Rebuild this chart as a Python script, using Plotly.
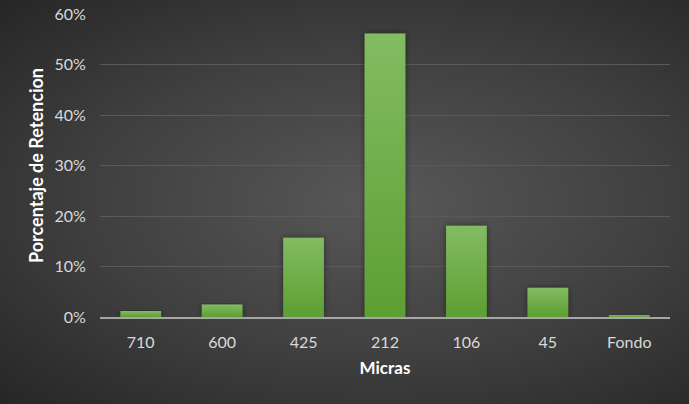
import plotly.graph_objects as go

CATEGORIAS = ["710", "600", "425", "212", "106", "45", "Fondo"]
RETENCION = [0.012, 0.025, 0.157, 0.562, 0.181, 0.058, 0.002]
TICKS_Y = [0, 0.1, 0.2, 0.3, 0.4, 0.5, 0.6]
TEXTO_Y = ["0%", "10%", "20%", "30%", "40%", "50%", "60%"]

VERDE = "#6aab3f"
GRIS_TXT = "#d9d9d9"
FUENTE = "Lato, Open Sans, sans-serif"

fig = go.Figure(go.Bar(
    x=CATEGORIAS, y=RETENCION,
    marker=dict(color=VERDE, line=dict(width=0)),
    width=0.5,
))

fig.update_layout(
    width=689, height=404,
    margin=dict(l=100, r=19, t=14, b=87),
    paper_bgcolor="rgba(0,0,0,0)",
    plot_bgcolor="rgba(0,0,0,0)",
    font=dict(family=FUENTE, color=GRIS_TXT, size=13),
    showlegend=False,
    bargap=0.5,
)
fig.update_xaxes(
    title=dict(text="<b>Micras</b>", font=dict(color="#ffffff", size=17), standoff=12),
    tickfont=dict(color=GRIS_TXT, size=16),
    showgrid=False, showline=True, linecolor="#a6a6a6", linewidth=2,
    ticks="outside", ticklen=10, tickcolor="rgba(0,0,0,0)",
    automargin=False,
)
fig.update_yaxes(
    title=dict(text="<b>Porcentaje de Retencion</b>", font=dict(color="#ffffff", size=18), standoff=6),
    range=[0, 0.6005], tickvals=TICKS_Y, ticktext=TEXTO_Y,
    tickfont=dict(color=GRIS_TXT, size=16),
    gridcolor="#5a5a5a", gridwidth=1, zeroline=False, showline=False,
    ticks="outside", ticklen=10, tickcolor="rgba(0,0,0,0)",
    automargin=False, ticklabeloverflow="allow",
)

js = """
document.body.style.margin = '0';
document.body.style.background = '#2e2e2e';
var gd = document.querySelector('.plotly-graph-div');
gd.style.background = 'radial-gradient(ellipse at 55% 50%, #585858 0%, #3f3f3f 55%, #262626 100%)';
function pintar(){
  var svg = gd.querySelector('svg.main-svg');
  if (!svg) return;
  var ns = 'http://www.w3.org/2000/svg';
  var defs = svg.querySelector('defs');
  if (!svg.querySelector('#gradVerde')) {
    var g = document.createElementNS(ns, 'linearGradient');
    g.setAttribute('id', 'gradVerde');
    g.setAttribute('x1', '0'); g.setAttribute('y1', '0');
    g.setAttribute('x2', '0'); g.setAttribute('y2', '1');
    [['0%', '#83bb62'], ['100%', '#5d9f32']].forEach(function(s){
      var st = document.createElementNS(ns, 'stop');
      st.setAttribute('offset', s[0]); st.setAttribute('stop-color', s[1]);
      g.appendChild(st);
    });
    defs.appendChild(g);
    var f = document.createElementNS(ns, 'filter');
    f.setAttribute('id', 'sombra');
    f.setAttribute('x', '-30%'); f.setAttribute('y', '-10%');
    f.setAttribute('width', '160%'); f.setAttribute('height', '120%');
    var ds = document.createElementNS(ns, 'feDropShadow');
    ds.setAttribute('dx', '0'); ds.setAttribute('dy', '0');
    ds.setAttribute('stdDeviation', '3'); ds.setAttribute('flood-color', '#000');
    ds.setAttribute('flood-opacity', '0.45');
    f.appendChild(ds);
    defs.appendChild(f);
  }
  gd.querySelectorAll('.bars .point path').forEach(function(p){
    p.style.fill = 'url(#gradVerde)';
    p.setAttribute('filter', 'url(#sombra)');
  });
}
pintar();
gd.on('plotly_afterplot', pintar);
"""

fig.write_html("out.html", post_script=js, config={"displayModeBar": False})
